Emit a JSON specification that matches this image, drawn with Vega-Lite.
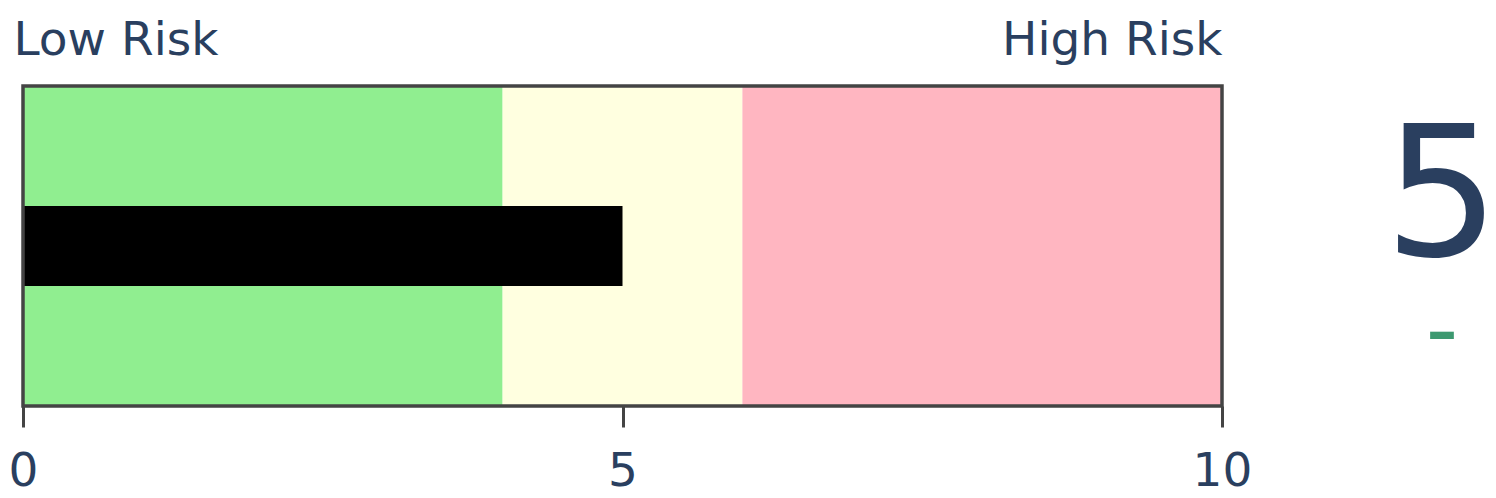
{
  "$schema": "https://vega.github.io/schema/vega-lite/v6.json",
  "background": "white",
  "padding": {"left": 8, "top": 16, "right": 0, "bottom": 5},
  "spacing": 170,
  "bounds": "flush",
  "resolve": {"scale": {"color": "independent", "size": "independent", "y": "independent"}},
  "config": {
    "view": {"stroke": null},
    "font": "DejaVu Sans",
    "axis": {"labelFont": "DejaVu Sans", "grid": false, "labelLimit": 0}
  },
  "hconcat": [
    {
      "width": 1199,
      "height": 320,
      "layer": [
        {
          "data": {
            "values": [
              {"band": "low", "from": 0, "to": 4},
              {"band": "mid", "from": 4, "to": 6},
              {"band": "high", "from": 6, "to": 10}
            ]
          },
          "mark": "rect",
          "encoding": {
            "x": {
              "field": "from",
              "type": "quantitative",
              "scale": {"domain": [0, 10], "nice": false, "zero": false},
              "axis": {
                "orient": "top",
                "values": [0, 10],
                "labelExpr": "datum.value == 0 ? 'Low Risk' : 'High Risk'",
                "labelFlush": true,
                "labelOffset": {"condition": {"test": "datum.value == 0", "value": -10}, "value": 0},
                "labelFontSize": 47,
                "labelColor": "#2a3f5f",
                "labelBaseline": "alphabetic",
                "labelPadding": 32,
                "ticks": false,
                "tickSize": 0,
                "domain": false,
                "title": null
              }
            },
            "x2": {"field": "to"},
            "color": {
              "field": "band",
              "type": "nominal",
              "scale": {"domain": ["low", "mid", "high"], "range": ["#90ee90", "#ffffe0", "#ffb6c1"]},
              "legend": null
            }
          }
        },
        {
          "data": {"values": [{"metric": "risk", "value": 5}]},
          "mark": {"type": "bar", "color": "#000000", "height": 80},
          "encoding": {
            "x": {
              "field": "value",
              "type": "quantitative",
              "axis": {
                "orient": "bottom",
                "values": [0, 5, 10],
                "labelFlush": false,
                "labelFontSize": 47,
                "labelColor": "#2a3f5f",
                "labelPadding": 21,
                "tickSize": 21,
                "tickWidth": 3,
                "tickColor": "#444444",
                "domain": false,
                "title": null
              }
            },
            "y": {
              "field": "metric",
              "type": "nominal",
              "axis": null
            }
          }
        },
        {
          "data": {"values": [{"from": 0, "to": 10}]},
          "mark": {"type": "rect", "filled": false, "color": "#444444", "strokeWidth": 3.5},
          "encoding": {
            "x": {"field": "from", "type": "quantitative", "axis": null},
            "x2": {"field": "to"}
          }
        }
      ]
    },
    {
      "width": 100,
      "height": 320,
      "data": {
        "values": [
          {"kind": "value", "text": "5"},
          {"kind": "delta", "text": "-"}
        ]
      },
      "mark": {"type": "text", "font": "DejaVu Sans", "baseline": "middle", "align": "center"},
      "encoding": {
        "text": {"field": "text"},
        "y": {
          "field": "kind",
          "type": "nominal",
          "scale": {"type": "point", "domain": ["value", "delta"], "range": [114, 247], "padding": 0},
          "axis": null
        },
        "size": {
          "field": "kind",
          "type": "nominal",
          "scale": {"domain": ["value", "delta"], "range": [182, 90]},
          "legend": null
        },
        "color": {
          "field": "kind",
          "type": "nominal",
          "scale": {"domain": ["value", "delta"], "range": ["#2a3f5f", "#3d9970"]},
          "legend": null
        }
      }
    }
  ]
}
